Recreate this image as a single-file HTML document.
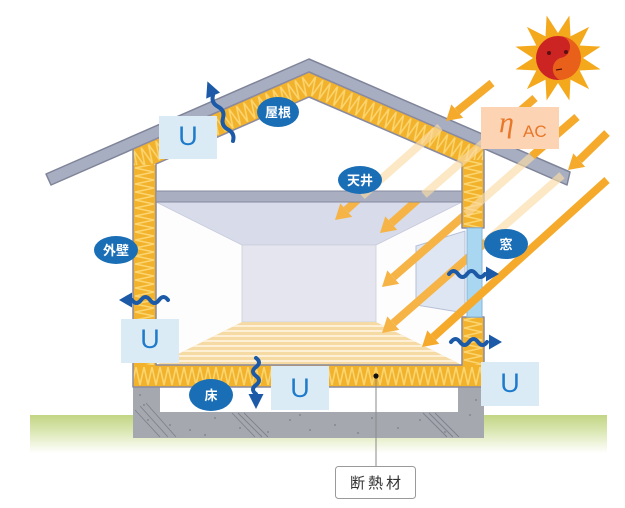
<!DOCTYPE html>
<html><head><meta charset="utf-8"><style>
html,body{margin:0;padding:0;background:#fff;}
svg{display:block;}
.lbl{font-family:"Liberation Sans","Noto Sans CJK JP",sans-serif;font-size:13px;fill:#fff;text-anchor:middle;font-weight:bold;}
.u{font-family:"Liberation Sans",sans-serif;font-size:27px;fill:#1e7acb;text-anchor:middle;}
</style></head><body>
<svg width="625" height="508" viewBox="0 0 625 508" xmlns="http://www.w3.org/2000/svg">
<defs>
<linearGradient id="grd" x1="0" y1="0" x2="0" y2="1">
<stop offset="0" stop-color="#c2d584"/><stop offset="0.45" stop-color="#dce8b6"/><stop offset="1" stop-color="#ffffff"/>
</linearGradient>
<pattern id="zvL" patternUnits="userSpaceOnUse" width="23" height="8" patternTransform="translate(133,0)">
<rect width="23" height="8" fill="#f2b22c"/><path d="M2,0 L21,4 L2,8" stroke="#fbd56f" stroke-width="1.6" fill="none"/></pattern>
<pattern id="zvR" patternUnits="userSpaceOnUse" width="22" height="8" patternTransform="translate(462,0)">
<rect width="22" height="8" fill="#f2b22c"/><path d="M2,0 L20,4 L2,8" stroke="#fbd56f" stroke-width="1.6" fill="none"/></pattern>
<pattern id="zh" patternUnits="userSpaceOnUse" width="8" height="22" patternTransform="translate(0,365)">
<rect width="8" height="22" fill="#f2b22c"/><path d="M0,2 L4,20 L8,2" stroke="#fbd56f" stroke-width="1.6" fill="none"/></pattern>
<pattern id="zrl" patternUnits="userSpaceOnUse" width="8" height="24" patternTransform="translate(133,149) rotate(-23.6)">
<rect width="8" height="24" fill="#f2b22c"/><path d="M0,2 L4,21 L8,2" stroke="#fbd56f" stroke-width="1.6" fill="none"/></pattern>
<pattern id="zrr" patternUnits="userSpaceOnUse" width="8" height="24" patternTransform="translate(309,72) rotate(23.5)">
<rect width="8" height="24" fill="#f2b22c"/><path d="M0,2 L4,21 L8,2" stroke="#fbd56f" stroke-width="1.6" fill="none"/></pattern>
<clipPath id="floorClip"><polygon points="242,322 376,322 462,365 156,365"/></clipPath>
</defs>

<!-- ground -->
<rect x="30" y="415" width="577" height="38" fill="url(#grd)"/>

<!-- foundation -->
<rect x="133" y="387" width="351" height="51" fill="#a6a8b0"/>
<rect x="160" y="387" width="298" height="25" fill="#ffffff"/>
<g stroke="#7f818b" stroke-width="0.9">
<path d="M135,410 L160,437 M140,406 L168,437 M146,403 L176,437"/>
<path d="M232,413 L255,437 M238,413 L262,437 M244,413 L268,437"/>
<path d="M423,413 L447,437 M429,413 L453,437 M435,413 L459,437"/>
</g>
<g fill="#7b7d86">
<circle cx="140" cy="395" r="0.9"/><circle cx="148" cy="420" r="0.9"/><circle cx="170" cy="425" r="0.9"/><circle cx="190" cy="430" r="0.9"/><circle cx="215" cy="418" r="0.9"/><circle cx="240" cy="428" r="0.9"/><circle cx="268" cy="432" r="0.9"/><circle cx="290" cy="420" r="0.9"/><circle cx="310" cy="430" r="0.9"/><circle cx="335" cy="425" r="0.9"/><circle cx="358" cy="433" r="0.9"/><circle cx="372" cy="418" r="0.9"/><circle cx="398" cy="428" r="0.9"/><circle cx="420" cy="420" r="0.9"/><circle cx="445" cy="432" r="0.9"/><circle cx="470" cy="415" r="0.9"/><circle cx="476" cy="400" r="0.9"/><circle cx="144" cy="405" r="0.9"/><circle cx="300" cy="415" r="0.9"/><circle cx="205" cy="435" r="0.9"/>
</g>

<!-- room interior -->
<polygon points="156,202 242,245 242,322 156,365" fill="#fdfdfe"/>
<polygon points="462,202 376,245 376,322 462,365" fill="#fdfdfe"/>
<polygon points="156,202 462,202 376,245 242,245" fill="#d7dbea" stroke="#c6cadb" stroke-width="0.8"/>
<rect x="242" y="245" width="134" height="77" fill="#e4e5ef" stroke="#cbcdda" stroke-width="0.8"/>
<polygon points="242,322 376,322 462,365 156,365" fill="#f6daa4"/>
<g clip-path="url(#floorClip)" stroke="#fdf0d6" stroke-width="2">
<path d="M140,326 H480 M140,331 H480 M140,336 H480 M140,341 H480 M140,346 H480 M140,351 H480 M140,356 H480 M140,361 H480"/>
</g>
<!-- window pane -->
<polygon points="416,246 465,231 465,313 416,305" fill="#dfe6f3" stroke="#b6c0d6" stroke-width="1"/>

<!-- room arrows -->
<g fill="#f6b446" stroke="none">
<path d="M366,192 L346.25,210.1" stroke="#f6b446" stroke-width="8"/>
<polygon points="335,220 352.2,216.85 340.3,203.35"/>
<path d="M424,194 L391.25,223.1" stroke="#f6b446" stroke-width="8"/>
<polygon points="380,233 397.2,229.85 385.3,216.35"/>
<path d="M466,214 L393.25,277.1" stroke="#f6b446" stroke-width="8"/>
<polygon points="382,287 399.2,283.85 387.3,270.35"/>
<path d="M486,242 L393.25,323.1" stroke="#f6b446" stroke-width="8"/>
<polygon points="382,333 399.2,329.85 387.3,316.35"/>
</g>

<!-- structure -->
<polygon points="46,174 309,59 570,172 567,185 309,72 51,185" fill="#a8aec2" stroke="#7f8499" stroke-width="1.5" stroke-linejoin="round"/>
<polygon points="133,149 309,72 309,97 133,174" fill="url(#zrl)"/>
<polygon points="309,72 484,148 484,173 309,97" fill="url(#zrr)"/>
<rect x="133" y="165" width="23" height="222" fill="url(#zvL)"/>
<rect x="462" y="160" width="22" height="68" fill="url(#zvR)"/>
<rect x="462" y="317" width="22" height="70" fill="url(#zvR)"/>
<rect x="133" y="365" width="351" height="22" fill="url(#zh)"/>
<path d="M133,149 L309,72 L484,148 L484,228 L462,228 L462,163 L309,97 L156,164 L156,365 L462,365 L462,317 L484,317 L484,387 L133,387 Z" fill="none" stroke="#8a8aa0" stroke-width="1.5" stroke-linejoin="round"/>
<rect x="156" y="191" width="306" height="11" fill="#a9afc1" stroke="#858a9e" stroke-width="1"/>
<rect x="467" y="228" width="15" height="89" fill="#a9d6f1" stroke="#86b6d9" stroke-width="1"/>

<!-- faded rays -->
<g stroke="#fbdca6" stroke-width="8" opacity="0.65" fill="none">
<path d="M440,127 L362,196"/>
<path d="M518,112.8 L424,194.7"/>
<path d="M532,156 L466,214"/>
<path d="M562,175.3 L486,241.8"/>
</g>

<!-- outer solid rays -->
<g fill="#f5aa2c">
<path d="M492,83 L457.25,111.1" stroke="#f5aa2c" stroke-width="8"/>
<polygon points="446,121 463.2,117.85 451.3,104.35"/>
<path d="M535,98 L518,112.8" stroke="#f5aa2c" stroke-width="8"/>
<path d="M577,117 L532,156" stroke="#f5aa2c" stroke-width="8"/>
<path d="M607,133 L579.25,160.1" stroke="#f5aa2c" stroke-width="8"/>
<polygon points="568,170 585.2,166.85 573.3,153.35"/>
<path d="M607,180 L433.25,337.1" stroke="#f5aa2c" stroke-width="8"/>
<polygon points="422,347 439.2,343.85 427.3,330.35"/>
</g>

<!-- sun -->
<polygon fill="#f4a81c" points="569.4,15.5 570.5,36.35 589.1,26.9 579.65,45.5 600.5,46.6 583,58 600.5,69.4 579.65,70.5 589.1,89.1 570.5,79.65 569.4,100.5 558,83 546.6,100.5 545.5,79.65 526.9,89.1 536.35,70.5 515.5,69.4 533,58 515.5,46.6 536.35,45.5 526.9,26.9 545.5,36.35 546.6,15.5 558,33"/>
<circle cx="558" cy="58" r="22" fill="#cc2323"/>
<path d="M558,36 A22,22 0 0 1 560,80 A12,12 0 0 1 560,58 A11,11 0 0 0 558,36 Z" fill="#e8601a"/>
<circle cx="549" cy="53" r="2" fill="#5a1010"/>
<circle cx="566" cy="52" r="2" fill="#5a1010"/>
<path d="M556,70 L562,69" stroke="#5a1010" stroke-width="1.2"/>

<!-- eta AC -->
<rect x="481" y="107" width="78" height="42" fill="#fcd4b4"/>
<text x="499" y="132" font-family="'Liberation Serif',serif" font-style="italic" font-size="30" fill="#e8772a">η</text>
<text x="523" y="137" font-family="'Liberation Sans',sans-serif" font-size="17" fill="#e8772a">AC</text>

<!-- U boxes -->
<rect x="159" y="116" width="58" height="43" fill="#daebf5"/>
<text class="u" x="188" y="145">U</text>
<rect x="121" y="319" width="58" height="44" fill="#daebf5"/>
<text class="u" x="150" y="348">U</text>
<rect x="271" y="366" width="58" height="44" fill="#daebf5"/>
<text class="u" x="300" y="397">U</text>
<rect x="481" y="362" width="58" height="44" fill="#daebf5"/>
<text class="u" x="510" y="392">U</text>

<!-- blue heat arrows -->
<g stroke="#1c5aa8" stroke-width="4" fill="none" stroke-linecap="round">
<path d="M233,141 Q235.1,133.3 228,129.5 T223,118.1 T218,106.7 T213,95.2"/>
<path d="M168,300 Q163.5,294 159,300 T150,300 T141,300 T132,300"/>
<path d="M256,358 Q262,362.5 256,367 T256,376 T256,385 T256,394"/>
<path d="M449,274 Q453.5,268 458,274 T467,274 T476,274 T485,274"/>
<path d="M451,342 Q455.5,336 460,342 T469,342 T478,342 T487,342"/>
</g>
<g fill="#1c5aa8">
<polygon points="207.4,81.4 220,92.6 206.2,98.6"/>
<polygon points="119,300 132,292.5 132,307.5"/>
<polygon points="256,409 248.5,394 263.5,394"/>
<polygon points="499,274 486,266.5 486,281.5"/>
<polygon points="502,342 489,334.5 489,349.5"/>
</g>

<!-- labels -->
<ellipse cx="278" cy="112" rx="21" ry="15" fill="#1a6eb6"/>
<text class="lbl" x="278" y="117">屋根</text>
<ellipse cx="360" cy="180" rx="22" ry="14" fill="#1a6eb6"/>
<text class="lbl" x="360" y="185">天井</text>
<ellipse cx="116" cy="250" rx="22" ry="14" fill="#1a6eb6"/>
<text class="lbl" x="116" y="255">外壁</text>
<ellipse cx="506" cy="244" rx="22" ry="15" fill="#1a6eb6"/>
<text class="lbl" x="506" y="249">窓</text>
<ellipse cx="211" cy="395" rx="22" ry="16" fill="#1a6eb6"/>
<text class="lbl" x="211" y="400">床</text>

<!-- leader -->
<line x1="376" y1="376" x2="376" y2="466" stroke="#8a8a8a" stroke-width="1"/>
<circle cx="376" cy="376" r="2.6" fill="#111"/>
<rect x="335.5" y="466.5" width="80" height="32" rx="3" fill="#fff" stroke="#9a9a9a" stroke-width="1"/>
<text x="377" y="488" font-family="'Liberation Sans','Noto Sans CJK JP',sans-serif" font-size="15" fill="#333" text-anchor="middle" letter-spacing="3">断熱材</text>
</svg>
</body></html>
